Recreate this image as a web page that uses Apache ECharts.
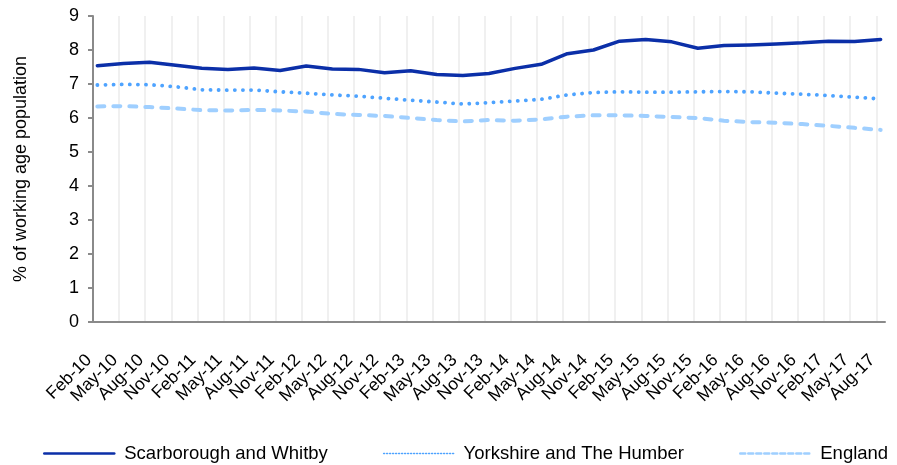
<!DOCTYPE html>
<html>
<head>
<meta charset="utf-8">
<script src="https://cdn.jsdelivr.net/npm/echarts@6/dist/echarts.min.js"></script>
<style>
html,body{margin:0;padding:0;background:#fff;}
#chart{width:897px;height:465px;}
</style>
</head>
<body>
<div id="chart"></div>
<script>
// Quarterly tick labels (Excel monthly date axis, major unit 3 months)
const quarterLabels = ['Feb-10','May-10','Aug-10','Nov-10','Feb-11','May-11','Aug-11','Nov-11',
  'Feb-12','May-12','Aug-12','Nov-12','Feb-13','May-13','Aug-13','Nov-13',
  'Feb-14','May-14','Aug-14','Nov-14','Feb-15','May-15','Aug-15','Nov-15',
  'Feb-16','May-16','Aug-16','Nov-16','Feb-17','May-17','Aug-17'];

const scarborough = [7.54,7.60,7.64,7.55,7.46,7.43,7.47,7.40,7.53,7.44,7.43,7.33,7.39,7.28,7.25,
  7.31,7.46,7.58,7.89,8.00,8.26,8.31,8.24,8.05,8.13,8.15,8.18,8.21,8.26,8.25,8.31];
const yorkshire = [6.97,6.99,6.98,6.92,6.83,6.82,6.82,6.77,6.73,6.68,6.64,6.58,6.52,6.47,6.41,
  6.45,6.50,6.55,6.68,6.75,6.77,6.76,6.76,6.77,6.78,6.77,6.73,6.70,6.66,6.61,6.56];
const england = [6.34,6.35,6.32,6.28,6.23,6.22,6.24,6.22,6.19,6.12,6.09,6.06,6.00,5.94,5.90,
  5.94,5.92,5.96,6.04,6.08,6.08,6.06,6.03,6.00,5.92,5.88,5.86,5.82,5.77,5.71,5.65];

const seriesNames = ['Scarborough and Whitby','Yorkshire and The Humber','England'];
const yTicks = [0,1,2,3,4,5,6,7,8,9];

// monthly categories: each quarterly label followed by two unlabeled months (last has none)
const months = [];
quarterLabels.forEach((l, i) => {
  months.push(l);
  if (i < quarterLabels.length - 1) { months.push(''); months.push(''); }
});
const toPairs = arr => arr.map((v, k) => [k * 3, v]);

const FONT = 'Liberation Sans, Arial, sans-serif';
const NOSYM = { color: 'rgba(0,0,0,0)', borderColor: 'rgba(0,0,0,0)', borderWidth: 0 };
const chart = echarts.init(document.getElementById('chart'));
chart.setOption({
  animation: false,
  backgroundColor: '#ffffff',
  textStyle: { fontFamily: FONT },
  grid: { left: 93, right: 12, top: 16, bottom: 143 },
  xAxis: {
    type: 'category',
    data: months,
    boundaryGap: true,
    axisLine: { lineStyle: { color: '#8a8a8a', width: 2 } },
    axisTick: { interval: 2, length: 5, lineStyle: { color: '#8a8a8a', width: 2 } },
    splitLine: { show: true, interval: 2, showMaxLine: false, lineStyle: { color: '#ebebeb', width: 1.5 } },
    axisLabel: {
      interval: 2, rotate: 45, fontSize: 17.5, color: '#000', fontFamily: FONT,
      margin: 27, padding: [0, 12, 0, 0]
    }
  },
  yAxis: {
    type: 'value',
    min: yTicks[0], max: yTicks[yTicks.length - 1], interval: 1,
    name: '% of working age population',
    nameLocation: 'middle', nameGap: 63,
    nameTextStyle: { fontSize: 18, color: '#000', fontFamily: FONT },
    axisLine: { show: true, lineStyle: { color: '#8a8a8a', width: 2 } },
    axisTick: { show: true, length: 5, lineStyle: { color: '#8a8a8a', width: 2 } },
    splitLine: { show: false },
    axisLabel: { fontSize: 18, color: '#000', margin: 14, fontFamily: FONT }
  },
  legend: {
    left: 43, top: 444, width: 854, padding: 0, itemWidth: 70, itemHeight: 14, itemGap: 55,
    textStyle: { fontSize: 18.5, color: '#000', fontFamily: FONT, padding: [0, 0, 0, 5] },
    data: [
      { name: seriesNames[0], itemStyle: NOSYM, lineStyle: { width: 2.5, type: 'solid', color: '#0b2fa8' } },
      { name: seriesNames[1], itemStyle: NOSYM, lineStyle: { width: 1.5, type: [1, 2], color: '#4ea3ff' } },
      { name: seriesNames[2], itemStyle: NOSYM, lineStyle: { width: 2.5, type: [5, 3], color: '#9fcfff' } }
    ]
  },
  series: [
    {
      name: seriesNames[0], type: 'line', data: toPairs(scarborough), symbol: 'none',
      lineStyle: { color: '#0b2fa8', width: 3.5, join: 'round', cap: 'round' },
      itemStyle: { color: '#0b2fa8' }, z: 4
    },
    {
      name: seriesNames[1], type: 'line', data: toPairs(yorkshire), symbol: 'none',
      lineStyle: { color: '#4ea3ff', width: 3.8, type: [0.1, 8], cap: 'round' },
      itemStyle: { color: '#4ea3ff' }, z: 3
    },
    {
      name: seriesNames[2], type: 'line', data: toPairs(england), symbol: 'none',
      lineStyle: { color: '#9fcfff', width: 4, type: [7, 9], cap: 'round' },
      itemStyle: { color: '#9fcfff' }, z: 2
    }
  ]
});
</script>
</body>
</html>
